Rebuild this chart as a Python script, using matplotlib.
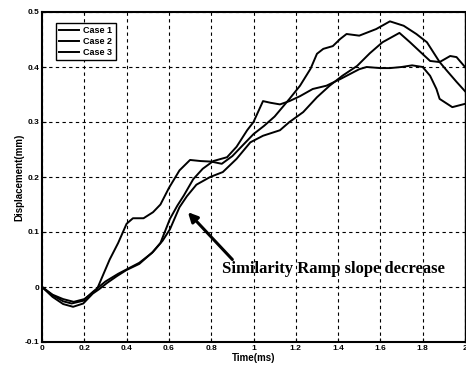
import numpy as np
import matplotlib.pyplot as plt

# displacement traces, read per case
t_case1 = [0, 0.05, 0.1, 0.15, 0.2, 0.26, 0.32, 0.36, 0.4, 0.43, 0.48, 0.525, 0.56, 0.6, 0.65,
           0.7, 0.75, 0.8, 0.85, 0.9, 0.95, 1.0, 1.05, 1.1, 1.17, 1.22, 1.27, 1.3, 1.33, 1.375,
           1.41, 1.44, 1.5, 1.58, 1.645, 1.71, 1.77, 1.82, 1.85, 1.88, 1.915, 1.96, 2.0]
d_case1 = [0, -0.014, -0.022, -0.027, -0.022, -0.004, 0.05, 0.08, 0.115, 0.125, 0.125, 0.136, 0.15,
           0.18, 0.212, 0.231, 0.229, 0.228, 0.224, 0.238, 0.258, 0.278, 0.293, 0.31, 0.342, 0.366,
           0.397, 0.424, 0.433, 0.438, 0.451, 0.46, 0.457, 0.469, 0.483, 0.475, 0.46, 0.445, 0.427,
           0.409, 0.393, 0.373, 0.356]

t_case2 = [0, 0.05, 0.1, 0.147, 0.195, 0.24, 0.27, 0.31, 0.355, 0.4, 0.46, 0.525, 0.57, 0.605,
           0.65, 0.685, 0.73, 0.795, 0.855, 0.92, 0.985, 1.045, 1.125, 1.17, 1.235, 1.3, 1.36,
           1.42, 1.49, 1.55, 1.61, 1.69, 1.74, 1.79, 1.835, 1.88, 1.93, 1.96, 2.0]
d_case2 = [0, -0.018, -0.031, -0.036, -0.03, -0.012, -0.004, 0.008, 0.02, 0.031, 0.042, 0.064,
           0.084, 0.105, 0.145, 0.165, 0.186, 0.2, 0.209, 0.233, 0.263, 0.275, 0.285, 0.3, 0.318,
           0.345, 0.366, 0.384, 0.402, 0.425, 0.445, 0.462, 0.445, 0.427, 0.411, 0.409, 0.42,
           0.418, 0.4]

t_case3 = [0, 0.05, 0.1, 0.14, 0.195, 0.24, 0.3, 0.36, 0.4, 0.46, 0.52, 0.56, 0.605, 0.64, 0.67,
           0.715, 0.76, 0.81, 0.875, 0.92, 0.97, 1.0, 1.045, 1.08, 1.125, 1.17, 1.22, 1.28, 1.345,
           1.41, 1.455, 1.5, 1.535, 1.6, 1.645, 1.7, 1.75, 1.8, 1.835, 1.865, 1.88, 1.94, 2.0]
d_case3 = [0, -0.015, -0.026, -0.03, -0.025, -0.009, 0.01, 0.024, 0.032, 0.044, 0.062, 0.08,
           0.124, 0.148, 0.166, 0.196, 0.215, 0.229, 0.236, 0.255, 0.285, 0.3, 0.338, 0.335,
           0.332, 0.338, 0.347, 0.36, 0.366, 0.378, 0.387, 0.396, 0.4, 0.398, 0.398, 0.4, 0.403,
           0.4, 0.384, 0.36, 0.342, 0.327, 0.333]

xticks = [0, 0.2, 0.4, 0.6, 0.8, 1, 1.2, 1.4, 1.6, 1.8, 2]
xlabels = ["0", "0.2", "0.4", "0.6", "0.8", "1", "1.2", "1.4", "1.6", "1.8", "2"]
yticks = [-0.1, 0, 0.1, 0.2, 0.3, 0.4, 0.5]
ylabels = ["-0.1", "0", "0.1", "0.2", "0.3", "0.4", "0.5"]

plt.rcParams['font.family'] = ['Liberation Sans', 'DejaVu Sans']
plt.rcParams['font.weight'] = 'bold'

fig = plt.figure(figsize=(4.66, 3.70), dpi=100)
ax = fig.add_axes([42 / 466, 28 / 370, 423 / 466, 330 / 370])

ax.plot(t_case1, d_case1, color="black", linewidth=1.4, label="Case 1")
ax.plot(t_case2, d_case2, color="black", linewidth=1.4, label="Case 2")
ax.plot(t_case3, d_case3, color="black", linewidth=1.4, label="Case 3")

ax.set_xlim(0, 2)
ax.set_ylim(-0.1, 0.5)
ax.set_xticks(xticks)
ax.set_xticklabels(xlabels, fontsize=6, fontweight="bold")
ax.set_yticks(yticks)
ax.set_yticklabels(ylabels, fontsize=6, fontweight="bold")
ax.tick_params(direction="in", length=3, width=0.8, pad=2)

ax.grid(True, color="black", linestyle=(0, (3, 3)), linewidth=0.8)
for side in ["left", "bottom", "top"]:
    ax.spines[side].set_linewidth(1.5)
ax.spines["right"].set_linewidth(1.0)

ax.set_xlabel("Time(ms)", fontsize=7, fontweight="bold", labelpad=1)
ax.set_ylabel("Displacement(mm)", fontsize=7, fontweight="bold", labelpad=0)

leg = ax.legend(loc="upper left", bbox_to_anchor=(0.022, 0.98), fontsize=6.5,
                handlelength=2.2, handletextpad=0.5, borderpad=0.35, labelspacing=0.2,
                fancybox=False, framealpha=1)
leg.get_frame().set_edgecolor("black")
leg.get_frame().set_linewidth(1.0)
for txt in leg.get_texts():
    txt.set_fontweight("bold")

# note on the ramp, arrow pointing at the converging slopes
ax.annotate("", xy=(0.69, 0.136), xytext=(0.9, 0.05),
            arrowprops=dict(arrowstyle="-|>", color="black", lw=2.2,
                            mutation_scale=14, shrinkA=0, shrinkB=0))
ax.text(0.85, 0.033, "Similarity Ramp slope decrease", fontsize=12, fontweight="bold",
        family="Liberation Serif", va="center", ha="left")

fig.savefig("out.png", dpi=100)
